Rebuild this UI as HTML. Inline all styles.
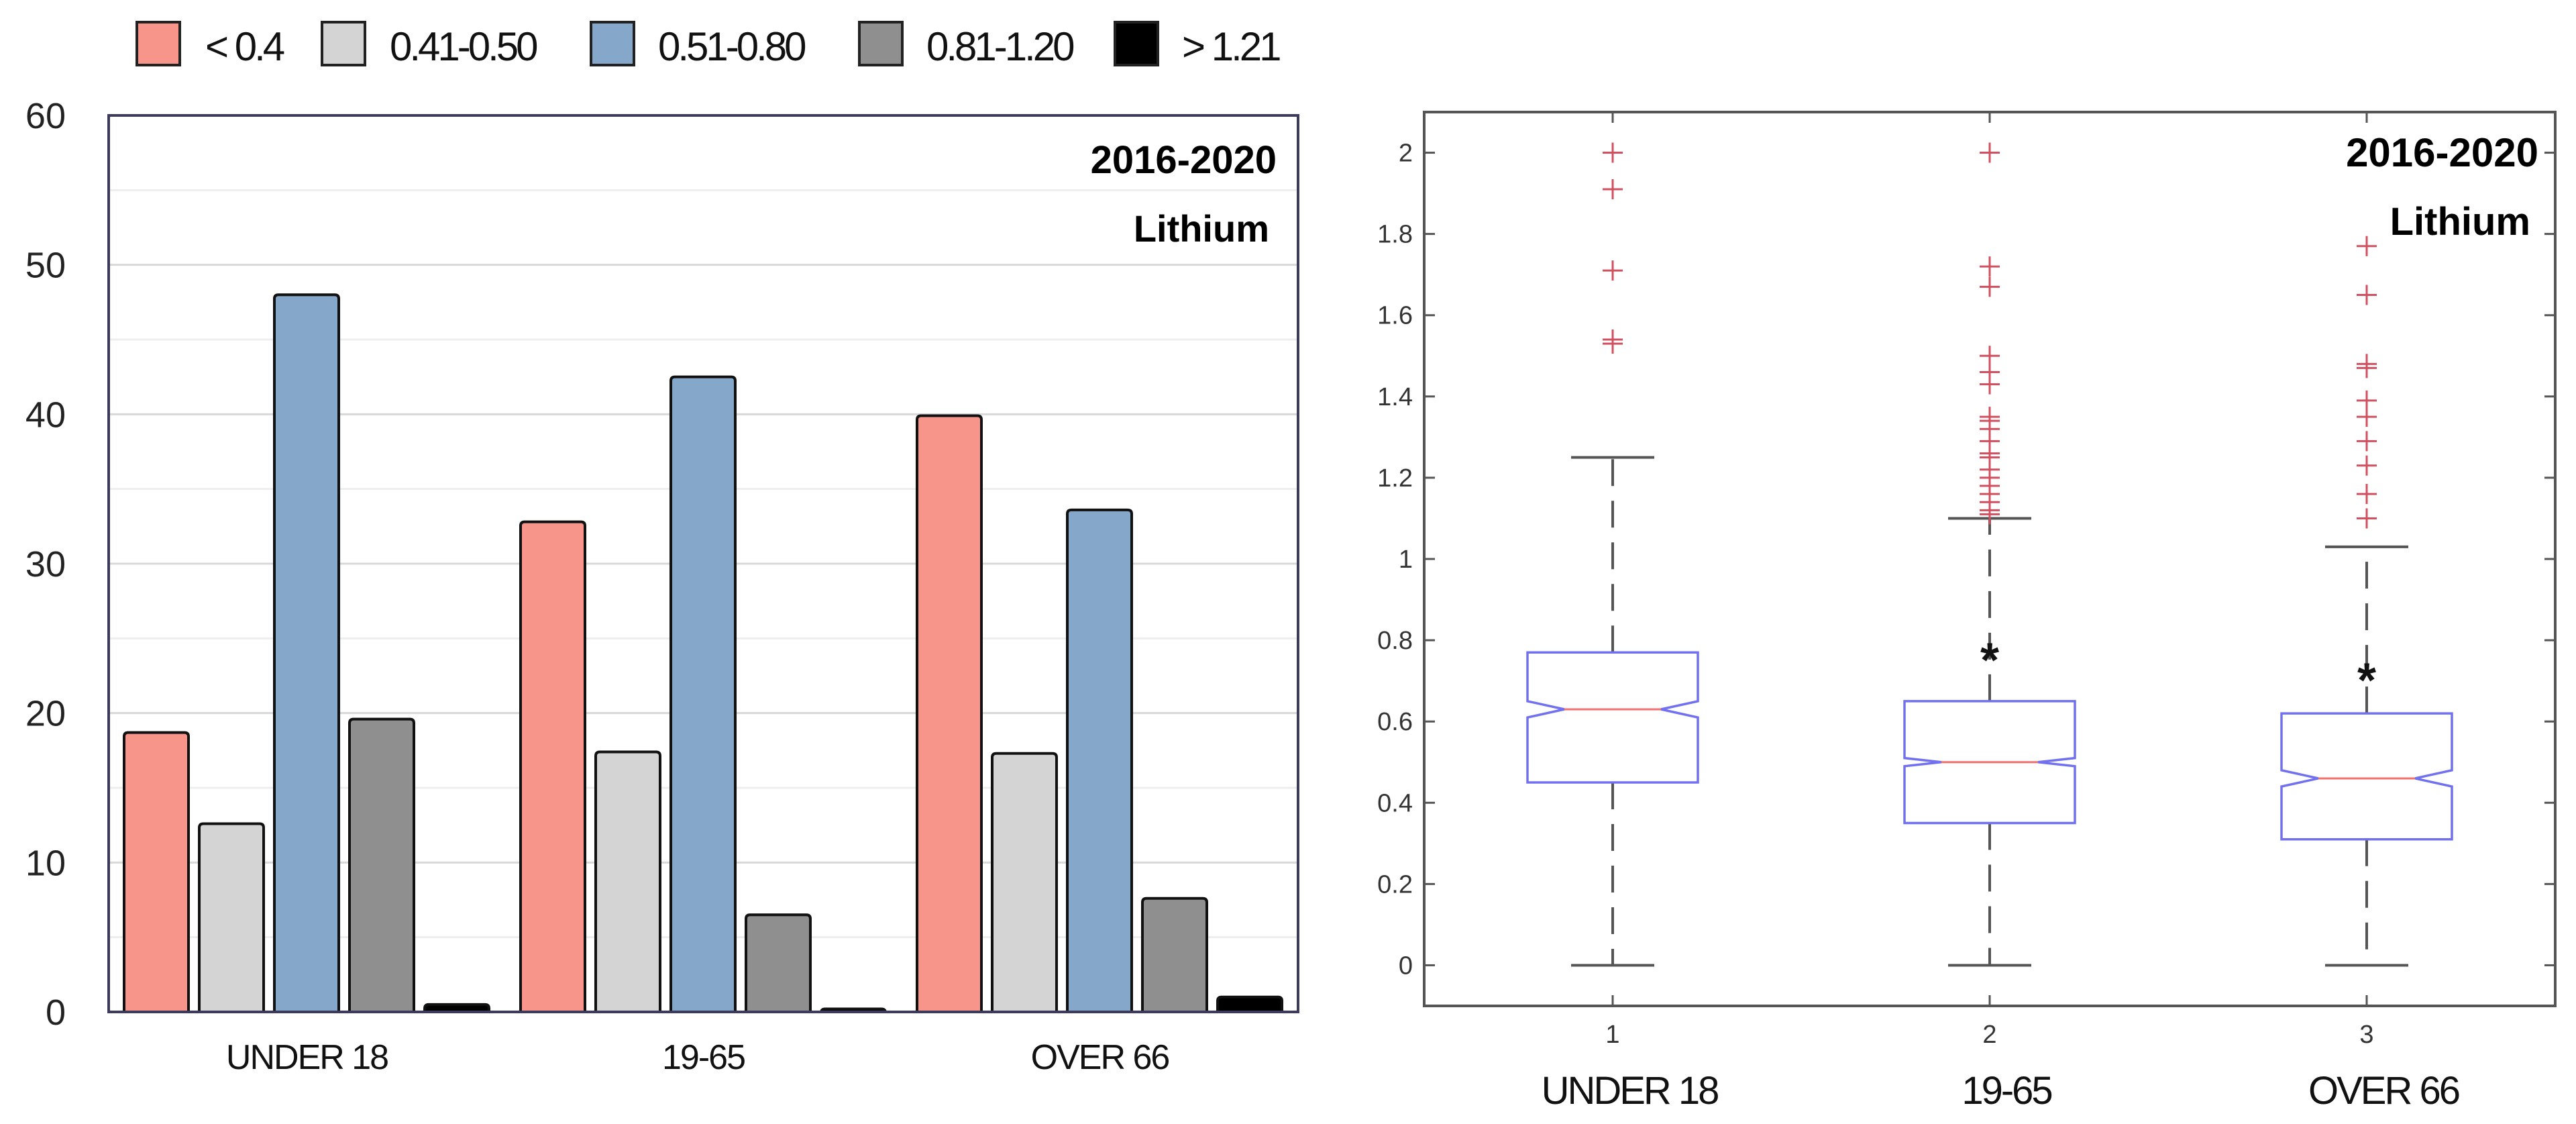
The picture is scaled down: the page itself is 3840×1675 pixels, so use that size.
<!DOCTYPE html>
<html><head><meta charset="utf-8"><style>
html,body{margin:0;padding:0;background:#fff;}
svg{display:block;font-family:"Liberation Sans",sans-serif;}
</style></head><body>
<svg id="chart" width="3840" height="1675" viewBox="0 0 3840 1675" xmlns="http://www.w3.org/2000/svg">
<g id="left"></g>
<g id="right"></g>
</svg>
<script>
// ---- bar chart data ----
const barCategories = ["UNDER 18", "19-65", "OVER 66"];
const seriesNames = ["< 0.4", "0.41-0.50", "0.51-0.80", "0.81-1.20", "> 1.21"];
const seriesLt04 = [18.7, 32.8, 39.9];
const series041 = [12.6, 17.4, 17.3];
const series051 = [48.0, 42.5, 33.6];
const series081 = [19.6, 6.5, 7.6];
const seriesGt121 = [0.5, 0.2, 1.0];
const barTicks = [0, 10, 20, 30, 40, 50, 60];
// ---- box plot data ----
const boxLabels = ["UNDER 18", "19-65", "OVER 66"];
const boxTickLabels = ["1", "2", "3"];
const boxQ1 = [0.45, 0.35, 0.31];
const boxQ3 = [0.77, 0.65, 0.62];
const boxMedian = [0.63, 0.50, 0.46];
const boxNotch = [0.02, 0.01, 0.02];
const whiskerLow = [0, 0, 0];
const whiskerHigh = [1.25, 1.10, 1.03];
const outliers1 = [2.0, 1.91, 1.71, 1.54, 1.53];
const outliers2 = [2.0, 1.72, 1.67, 1.50, 1.46, 1.43, 1.35, 1.34, 1.32, 1.29, 1.26, 1.25, 1.22, 1.20, 1.18, 1.16, 1.14, 1.12, 1.11];
const outliers3 = [1.77, 1.65, 1.48, 1.47, 1.39, 1.35, 1.29, 1.23, 1.16, 1.10];
const starValues = [null, 0.77, 0.72];
const boxYTicks = [0, 0.2, 0.4, 0.6, 0.8, 1, 1.2, 1.4, 1.6, 1.8, 2];

const NS = "http://www.w3.org/2000/svg";
function mk(parent, tag, attrs, text) {
  const e = document.createElementNS(NS, tag);
  for (const k in attrs) e.setAttribute(k, attrs[k]);
  if (text !== undefined) e.textContent = text;
  parent.appendChild(e);
  return e;
}

// ================= BAR CHART =================
const L = document.getElementById('left');
const bx0 = 162, bx1 = 1935, by0 = 172, by1 = 1508, bmax = 60;
const yB = v => by1 - v / bmax * (by1 - by0);
const groupW = (bx1 - bx0) / barCategories.length;
const xGroup = i => bx0 + i * groupW;
const allSeries = [seriesLt04, series041, series051, series081, seriesGt121];
const colors = ["#f8958a", "#d4d4d4", "#85a7c9", "#8f8f8f", "#000000"];

for (let v = 5; v < bmax; v += 5) {
  const g = mk(L, 'line', {x1: bx0, x2: bx1, y1: yB(v), y2: yB(v), stroke: v % 10 === 0 ? '#d8d8d8' : '#eeeeee', 'stroke-width': 3});
  
  
}
barTicks.forEach(t => {
  const e = mk(L, 'text', {x: 98, y: yB(t) + 19, 'text-anchor': 'end', 'font-size': 54, fill: '#222'}, String(t));
  
  
});
allSeries.forEach((s, si) => {
  s.forEach((v, ci) => {
    const x = xGroup(ci) + 23 + si * 112;
    const y = yB(v);
    const r = mk(L, 'path', {d: `M${x},${by1} L${x},${y + 6} Q${x},${y} ${x + 6},${y} L${x + 90},${y} Q${x + 96},${y} ${x + 96},${y + 6} L${x + 96},${by1} Z`, fill: colors[si], stroke: '#111', 'stroke-width': 4});
    
    
  });
});
const fr = mk(L, 'rect', {x: bx0, y: by0, width: bx1 - bx0, height: by1 - by0, fill: 'none', stroke: '#3d3b5c', 'stroke-width': 4});


barCategories.forEach((c, i) => {
  const e = mk(L, 'text', {x: xGroup(i) + groupW / 2, y: 1593, 'text-anchor': 'middle', 'font-size': 52, fill: '#111', 'letter-spacing': -2}, c);
  
  
});
let t1 = mk(L, 'text', {x: 1903, y: 258, 'text-anchor': 'end', 'font-size': 58, 'font-weight': 'bold', fill: '#000'}, '2016-2020');


let t2 = mk(L, 'text', {x: 1892, y: 360, 'text-anchor': 'end', 'font-size': 56, 'font-weight': 'bold', fill: '#000'}, 'Lithium');


const legSw = [204, 480, 881, 1281, 1662];
const legTx = [306, 581, 981, 1381, 1762];
seriesNames.forEach((n, i) => {
  const g = mk(L, 'g', {});
  
  
  mk(g, 'rect', {x: legSw[i], y: 33, width: 64, height: 64, fill: colors[i], stroke: '#222', 'stroke-width': 4});
  mk(g, 'text', {x: legTx[i], y: 90, 'font-size': 60, fill: '#111', 'letter-spacing': -4}, n);
});

// ================= BOX PLOT =================
const R = document.getElementById('right');
const px0 = 2123, px1 = 3809, py0 = 167, py1 = 1499;
const yMin = -0.1, yMax = 2.1;
const yP = v => py1 - (v - yMin) / (yMax - yMin) * (py1 - py0);
const xP = i => px0 + (i + 0.5) / 3 * (px1 - px0);

const pf = mk(R, 'rect', {x: px0, y: py0, width: px1 - px0, height: py1 - py0, fill: 'none', stroke: '#555', 'stroke-width': 4});


boxYTicks.forEach(t => {
  mk(R, 'line', {x1: px0, x2: px0 + 16, y1: yP(t), y2: yP(t), stroke: '#555', 'stroke-width': 3});
  mk(R, 'line', {x1: px1 - 16, x2: px1, y1: yP(t), y2: yP(t), stroke: '#555', 'stroke-width': 3});
  const e = mk(R, 'text', {x: 2106, y: yP(t) + 13, 'text-anchor': 'end', 'font-size': 38, fill: '#333'}, String(t));
  
  
});
boxTickLabels.forEach((l, i) => {
  const x = xP(i);
  mk(R, 'line', {x1: x, x2: x, y1: py1, y2: py1 - 16, stroke: '#555', 'stroke-width': 3});
  mk(R, 'line', {x1: x, x2: x, y1: py0, y2: py0 + 16, stroke: '#555', 'stroke-width': 3});
  const e = mk(R, 'text', {x: x, y: 1554, 'text-anchor': 'middle', 'font-size': 38, fill: '#333'}, l);
  
  
  const c = mk(R, 'text', {x: x + 25, y: 1645, 'text-anchor': 'middle', 'font-size': 58, fill: '#111', 'letter-spacing': -3}, boxLabels[i]);
  
  
});
const outliers = [outliers1, outliers2, outliers3];
const hw = 127, nw = 72, capw = 62;
boxLabels.forEach((l, i) => {
  const g = mk(R, 'g', {});
  
  
  const x = xP(i);
  mk(g, 'line', {x1: x, x2: x, y1: yP(boxQ3[i]), y2: yP(whiskerHigh[i]), stroke: '#555', 'stroke-width': 4, 'stroke-dasharray': '40 22'});
  mk(g, 'line', {x1: x, x2: x, y1: yP(boxQ1[i]), y2: yP(whiskerLow[i]), stroke: '#555', 'stroke-width': 4, 'stroke-dasharray': '40 22'});
  mk(g, 'line', {x1: x - capw, x2: x + capw, y1: yP(whiskerHigh[i]), y2: yP(whiskerHigh[i]), stroke: '#555', 'stroke-width': 4});
  mk(g, 'line', {x1: x - capw, x2: x + capw, y1: yP(whiskerLow[i]), y2: yP(whiskerLow[i]), stroke: '#555', 'stroke-width': 4});
  const q1 = yP(boxQ1[i]), q3 = yP(boxQ3[i]), m = yP(boxMedian[i]);
  const nh = yP(boxMedian[i] + boxNotch[i]), nl = yP(boxMedian[i] - boxNotch[i]);
  mk(g, 'path', {d: `M${x - hw},${q1} L${x - hw},${nl} L${x - nw},${m} L${x - hw},${nh} L${x - hw},${q3} L${x + hw},${q3} L${x + hw},${nh} L${x + nw},${m} L${x + hw},${nl} L${x + hw},${q1} Z`, fill: 'none', stroke: '#7070f0', 'stroke-width': 3.5});
  mk(g, 'line', {x1: x - nw, x2: x + nw, y1: m, y2: m, stroke: '#f07070', 'stroke-width': 3});
  outliers[i].forEach(v => {
    const o = mk(g, 'path', {d: `M${x - 15},${yP(v)} h30 M${x},${yP(v) - 15} v30`, stroke: '#d05060', 'stroke-width': 3, fill: 'none'});
    
    
  });
  if (starValues[i] !== null) {
    const s = mk(g, 'text', {x: x, y: yP(starValues[i]) + 36, 'text-anchor': 'middle', 'font-size': 72, 'font-weight': 'bold', fill: '#111'}, '*');
    
    
  }
});
let t3 = mk(R, 'text', {x: 3784, y: 248, 'text-anchor': 'end', 'font-size': 60, 'font-weight': 'bold', fill: '#000'}, '2016-2020');


let t4 = mk(R, 'text', {x: 3772, y: 350, 'text-anchor': 'end', 'font-size': 58, 'font-weight': 'bold', fill: '#000'}, 'Lithium');


</script>
</body></html>
